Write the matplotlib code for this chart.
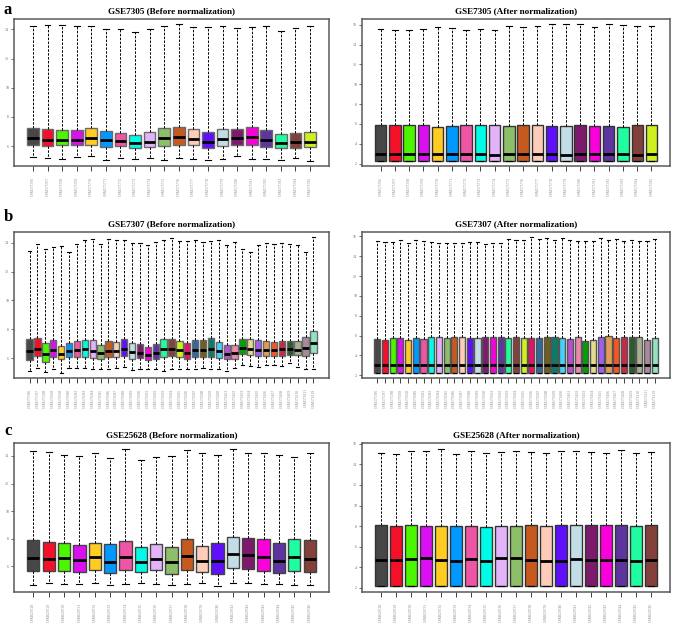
import matplotlib
matplotlib.use("Agg")
import matplotlib.pyplot as plt

# ---------------- colours ----------------
palette = ["#474747", "#F5102A", "#4CF500", "#DB10F0", "#FFCC22", "#0099FF", "#EE55A5",
           "#00FCE6", "#E3B3FA", "#8DBE6A", "#C65A1E", "#FECCB8", "#5F10F8", "#C2DDE6",
           "#7E1A6E", "#FA00DA", "#5E35A0", "#20FCA0", "#84403A", "#CFEF1E", "#E8106A",
           "#33689A", "#6E5F1E", "#0E7A68", "#44D2FA", "#B94ED2", "#E988AD", "#00A000",
           "#E4DA88", "#A15EF2", "#E39C55", "#FA5520", "#C52A48", "#2C5A2C", "#A9AE8E",
           "#A98A9C", "#92E4C0"]

# ---------------- sample names ----------------
samples_7305 = ["GSM175766", "GSM175767", "GSM175768", "GSM175769", "GSM175770",
                "GSM175771", "GSM175772", "GSM175773", "GSM175774", "GSM175775",
                "GSM175776", "GSM175777", "GSM175778", "GSM175779", "GSM175780",
                "GSM175781", "GSM175782", "GSM175783", "GSM175784", "GSM175785"]
samples_7307 = ["GSM175786", "GSM175787", "GSM175788", "GSM176058", "GSM176068",
                "GSM176080", "GSM176082", "GSM176083", "GSM176084", "GSM176085",
                "GSM176086", "GSM176087", "GSM176088", "GSM176089", "GSM176090",
                "GSM176091", "GSM176092", "GSM176093", "GSM176094", "GSM176095",
                "GSM176096", "GSM176097", "GSM176098", "GSM176099", "GSM176100",
                "GSM176101", "GSM176102", "GSM176103", "GSM176104", "GSM176105",
                "GSM176106", "GSM176107", "GSM176108", "GSM176109", "GSM176110",
                "GSM176111", "GSM176119"]
samples_25628 = ["GSM629728", "GSM629729", "GSM629730", "GSM629731", "GSM629732",
                 "GSM629733", "GSM629734", "GSM629735", "GSM629736", "GSM629737",
                 "GSM629738", "GSM629739", "GSM629740", "GSM629741", "GSM629742",
                 "GSM629743", "GSM629744", "GSM629745", "GSM629746"]

# ---------------- GSE7305 before ----------------
a_b_q3 = [7.23, 7.21, 7.14, 7.10, 7.23, 7.03, 6.91, 6.75, 6.94, 7.28, 7.32, 7.19, 7.00, 7.21, 7.21, 7.32, 7.14, 6.87, 6.91, 7.00]
a_b_med = [6.55, 6.46, 6.41, 6.46, 6.59, 6.41, 6.37, 6.23, 6.32, 6.55, 6.62, 6.50, 6.32, 6.50, 6.55, 6.62, 6.46, 6.23, 6.32, 6.32]
a_b_q1 = [6.05, 6.02, 6.05, 6.05, 6.11, 5.95, 6.00, 5.86, 5.95, 6.02, 6.07, 6.05, 5.89, 6.02, 6.05, 6.05, 5.95, 5.86, 5.89, 5.93]
a_b_hi = [14.24, 14.31, 14.29, 14.20, 14.20, 14.04, 13.99, 13.81, 14.04, 14.24, 14.33, 14.13, 14.13, 14.20, 14.06, 14.17, 14.20, 13.90, 14.06, 14.24]
a_b_lo = [5.27, 5.22, 5.16, 5.27, 5.34, 5.09, 5.22, 5.13, 5.22, 5.04, 5.18, 5.16, 5.06, 5.16, 5.32, 5.13, 5.16, 5.09, 5.22, 5.02]

# ---------------- GSE7305 after ----------------
a_a_q3 = [5.84, 5.84, 5.84, 5.84, 5.70, 5.77, 5.84, 5.84, 5.84, 5.74, 5.84, 5.84, 5.77, 5.74, 5.84, 5.77, 5.77, 5.70, 5.84, 5.84]
a_a_med = [2.94, 2.94, 2.94, 2.94, 2.94, 2.94, 2.94, 2.94, 2.90, 2.94, 2.94, 3.00, 2.94, 2.90, 2.94, 2.94, 2.94, 2.94, 2.90, 2.94]
a_a_q1 = [2.30] * 20
a_a_hi = [15.54, 15.47, 15.50, 15.54, 15.77, 15.64, 15.43, 15.54, 15.50, 15.84, 15.74, 15.84, 16.04, 16.04, 16.04, 15.74, 16.04, 15.94, 15.84, 15.84]
a_a_lo = [2.30] * 20

# ---------------- GSE7307 before ----------------
b_b_q3 = [7.33, 7.40, 7.06, 7.22, 6.83, 7.06, 7.17, 7.22, 7.22, 6.87, 7.17, 7.13, 7.29, 7.06, 6.94, 6.78, 6.94, 7.29, 7.33,
          7.17, 7.06, 7.22, 7.22, 7.36, 7.13, 6.90, 6.90, 7.29, 7.33, 7.22, 7.20, 7.10, 7.20, 7.17, 7.17, 7.45, 7.86]
b_b_med = [6.48, 6.60, 6.25, 6.55, 6.25, 6.48, 6.55, 6.60, 6.48, 6.32, 6.48, 6.48, 6.62, 6.41, 6.37, 6.23, 6.37, 6.60, 6.62,
           6.53, 6.37, 6.55, 6.55, 6.64, 6.48, 6.25, 6.32, 6.69, 6.60, 6.55, 6.57, 6.55, 6.60, 6.60, 6.55, 6.69, 7.01]
b_b_q1 = [5.86, 6.14, 5.75, 6.09, 5.91, 6.09, 6.09, 6.09, 6.02, 5.91, 6.07, 6.09, 6.16, 5.95, 6.02, 5.89, 5.95, 6.07, 6.14,
          6.07, 5.91, 6.09, 6.09, 6.09, 5.98, 5.91, 5.91, 6.30, 6.18, 6.11, 6.14, 6.14, 6.14, 6.18, 6.18, 6.14, 6.32]
b_b_hi = [13.45, 13.89, 13.54, 13.68, 13.79, 13.38, 13.89, 14.21, 14.28, 13.89, 14.23, 14.21, 14.16, 14.00, 14.00, 13.82, 14.07, 14.21, 14.32,
          14.11, 14.09, 14.16, 14.07, 14.14, 14.18, 13.86, 14.05, 13.56, 13.33, 13.86, 13.98, 13.93, 14.00, 13.93, 13.82, 13.38, 14.37]
b_b_lo = [5.10, 5.33, 5.06, 5.26, 4.99, 5.33, 5.33, 5.33, 5.26, 5.22, 5.22, 5.29, 5.38, 5.15, 5.26, 5.22, 5.26, 5.10, 5.22,
          5.22, 5.26, 5.26, 5.33, 5.22, 5.22, 5.13, 5.29, 5.52, 5.45, 5.38, 5.49, 5.49, 5.45, 5.63, 5.38, 5.26, 5.26]

# ---------------- GSE7307 after ----------------
b_a_q3 = [5.69, 5.59, 5.75, 5.72, 5.59, 5.75, 5.65, 5.85, 5.85, 5.79, 5.85, 5.85, 5.79, 5.75, 5.85, 5.85, 5.89, 5.75, 5.85,
          5.79, 5.79, 5.75, 5.89, 5.82, 5.79, 5.69, 5.85, 5.46, 5.55, 5.89, 5.95, 5.79, 5.89, 5.82, 5.89, 5.59, 5.79]
b_a_med = [3.00] * 27 + [3.06, 3.03] + [3.00] * 8
b_a_q1 = [2.27] * 37
b_a_hi = [15.52, 15.39, 15.39, 15.59, 15.29, 15.59, 15.49, 15.42, 15.32, 15.32, 15.32, 15.32, 15.42, 15.42, 15.26, 15.36, 15.36, 15.69, 15.65,
          15.65, 15.89, 15.72, 15.79, 15.62, 15.82, 15.62, 15.52, 15.52, 15.52, 15.82, 15.62, 15.69, 15.52, 15.62, 15.52, 15.52, 15.69]
b_a_lo = [2.27] * 37

# ---------------- GSE25628 before ----------------
c_b_q3 = [7.91, 7.79, 7.69, 7.52, 7.72, 7.62, 7.82, 7.37, 7.60, 7.42, 7.99, 7.47, 7.69, 8.11, 8.06, 7.96, 7.69, 7.94, 7.87]
c_b_med = [6.61, 6.49, 6.59, 6.47, 6.66, 6.34, 6.69, 6.32, 6.52, 6.27, 6.71, 6.39, 6.39, 6.88, 6.79, 6.64, 6.39, 6.66, 6.56]
c_b_q1 = [5.63, 5.66, 5.66, 5.61, 5.73, 5.48, 5.71, 5.56, 5.71, 5.41, 5.71, 5.61, 5.41, 5.85, 5.80, 5.66, 5.51, 5.66, 5.56]
c_b_hi = [14.34, 14.32, 14.10, 14.02, 14.25, 13.88, 14.47, 13.73, 13.95, 14.00, 14.42, 14.22, 14.10, 14.54, 14.22, 14.22, 14.10, 13.95, 14.25]
c_b_lo = [4.63, 4.80, 4.70, 4.70, 4.77, 4.65, 4.70, 4.77, 4.70, 4.63, 4.70, 4.77, 4.53, 4.77, 4.77, 4.70, 4.70, 4.63, 4.63]

# ---------------- GSE25628 after ----------------
c_a_q3 = [8.07, 7.97, 8.07, 8.00, 7.97, 7.97, 8.00, 7.90, 8.00, 8.00, 8.07, 7.97, 8.07, 8.13, 8.07, 8.07, 8.07, 7.97, 8.07]
c_a_med = [4.75, 4.72, 4.79, 4.89, 4.66, 4.62, 4.79, 4.56, 4.89, 4.89, 4.75, 4.62, 4.62, 4.82, 4.75, 4.75, 4.75, 4.62, 4.75]
c_a_q1 = [2.13] * 19
c_a_hi = [15.15, 15.05, 15.28, 15.28, 15.54, 15.05, 15.31, 15.15, 15.25, 15.28, 15.18, 15.15, 15.28, 15.34, 15.18, 15.15, 15.44, 15.15, 15.21]
c_a_lo = [2.13] * 19

plt.rcParams['font.family'] = ['Liberation Serif', 'DejaVu Serif']

fig = plt.figure(figsize=(6.77, 6.24), dpi=100)

W, H = 677.0, 624.0


def make_ax(x0, x1, ytop, ybot):
    return fig.add_axes([x0 / W, 1 - ybot / H, (x1 - x0) / W, (ybot - ytop) / H])


def draw(ax, names, q1, med, q3, lo, hi, yticks, title, edge):
    n = len(names)
    stats = []
    for i in range(n):
        stats.append(dict(med=med[i], q1=q1[i], q3=q3[i], whislo=lo[i], whishi=hi[i], fliers=[]))
    pos = list(range(1, n + 1))
    bp = ax.bxp(stats, positions=pos, widths=0.8, patch_artist=True, showfliers=False,
                capwidths=0.4,
                boxprops=dict(edgecolor=edge, linewidth=1.0),
                medianprops=dict(color='black', linewidth=2.0, solid_capstyle='butt'),
                whiskerprops=dict(color='black', linewidth=0.7, linestyle=(0, (2.5, 1.5))),
                capprops=dict(color='black', linewidth=0.8))
    for patch, col in zip(bp['boxes'], palette):
        patch.set_facecolor(col)
    allv = lo + hi
    vmin, vmax = min(allv), max(allv)
    rng = vmax - vmin
    ax.set_ylim(vmin - 0.04 * rng, vmax + 0.04 * rng)
    ax.set_xlim(0.5 - 0.04 * n, n + 0.5 + 0.04 * n)
    ax.set_yticks(yticks)
    ax.set_yticklabels([str(t) for t in yticks])
    ax.set_xticks(pos)
    ax.set_xticklabels(names, rotation=90)
    ax.tick_params(axis='y', labelsize=2.8, length=2, width=0.5, pad=1.5, colors='#333333', labelcolor='#666666')
    ax.tick_params(axis='x', labelsize=2.7, length=3.5, width=0.6, pad=4, colors='#222222', labelcolor='#888888')
    for s in ax.spines.values():
        s.set_color('#5a5a5a')
        s.set_linewidth(1.1)
    ax.set_title(title, fontsize=6.6, fontweight='bold', pad=4)


rows = [(19, 166), (232, 378), (443, 592)]

ax = make_ax(14, 329, *rows[0])
draw(ax, samples_7305, a_b_q1, a_b_med, a_b_q3, a_b_lo, a_b_hi, [6, 8, 10, 12, 14],
     "GSE7305 (Before normalization)", '#6a6a6a')
ax = make_ax(362, 670, *rows[0])
draw(ax, samples_7305, a_a_q1, a_a_med, a_a_q3, a_a_lo, a_a_hi, [2, 4, 6, 8, 10, 12, 14, 16],
     "GSE7305 (After normalization)", '#333333')

ax = make_ax(14, 329, *rows[1])
draw(ax, samples_7307, b_b_q1, b_b_med, b_b_q3, b_b_lo, b_b_hi, [6, 8, 10, 12, 14],
     "GSE7307 (Before normalization)", '#6a6a6a')
ax = make_ax(362, 670, *rows[1])
draw(ax, samples_7307, b_a_q1, b_a_med, b_a_q3, b_a_lo, b_a_hi, [2, 4, 6, 8, 10, 12, 14, 16],
     "GSE7307 (After normalization)", '#555555')

ax = make_ax(14, 329, *rows[2])
draw(ax, samples_25628, c_b_q1, c_b_med, c_b_q3, c_b_lo, c_b_hi, [6, 8, 10, 12, 14],
     "GSE25628 (Before normalization)", '#444444')
ax = make_ax(362, 670, *rows[2])
draw(ax, samples_25628, c_a_q1, c_a_med, c_a_q3, c_a_lo, c_a_hi, [2, 4, 6, 8, 10, 12, 14, 16],
     "GSE25628 (After normalization)", '#333333')

for letter, y in [("a", 10), ("b", 217), ("c", 431)]:
    fig.text(4 / W, 1 - y / H, letter, fontsize=12, fontweight='bold', va='center', ha='left')

fig.savefig("out.png", dpi=100)
